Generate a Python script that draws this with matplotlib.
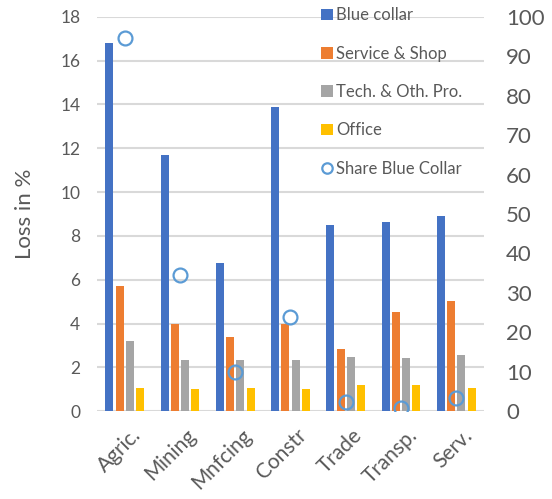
import matplotlib
matplotlib.use("Agg")
import matplotlib.pyplot as plt
import matplotlib.transforms as mtransforms
import numpy as np

plt.rcParams["font.family"] = ["Lato", "DejaVu Sans"]

sectors = ["Agric.", "Mining", "Mnfcing", "Constr", "Trade", "Transp.", "Serv."]
blue_collar = [16.8, 11.7, 6.75, 13.9, 8.5, 8.65, 8.9]
service_shop = [5.7, 4.0, 3.4, 4.0, 2.85, 4.55, 5.05]
tech_other = [3.2, 2.35, 2.35, 2.35, 2.5, 2.45, 2.55]
office = [1.08, 1.03, 1.08, 1.03, 1.2, 1.2, 1.08]
share_blue = [94.5, 34.5, 10.0, 24.0, 2.3, 0.9, 3.3]

series = [
    ("Blue collar", blue_collar, "#4472C4"),
    ("Service & Shop", service_shop, "#ED7D31"),
    ("Tech. & Oth. Pro.", tech_other, "#A5A5A5"),
    ("Office", office, "#FFC000"),
]
text_col = "#595959"
grid_col = "#D9D9D9"

fig = plt.figure(figsize=(5.52, 4.99), dpi=100)
ax = fig.add_axes([0.1757, 0.1757, 0.7011, 0.7908])
ax2 = ax.twinx()

x = np.arange(len(sectors))
step = 0.185
width = 0.145
handles = []
for i, (name, vals, col) in enumerate(series):
    b = ax.bar(x + (i - 1.5) * step, vals, width, color=col, label=name, zorder=3)
    handles.append(b)

line, = ax2.plot(x, share_blue, linestyle="none", marker="o", markersize=10,
                 markerfacecolor="none", markeredgecolor="#5B9BD5",
                 markeredgewidth=1.6, label="Share Blue Collar", zorder=4)
handles.append(line)

ax.set_xlim(-0.5, len(sectors) - 0.5)
ax.set_ylim(0, 18)
ax.set_yticks(range(0, 19, 2))
ax2.set_ylim(0, 100)
ax2.set_yticks(range(0, 101, 10))

ax.grid(axis="y", color=grid_col, linewidth=1.5, zorder=0)
ax.set_axisbelow(True)
for a in (ax, ax2):
    for s in a.spines.values():
        s.set_visible(False)
    a.tick_params(length=0, colors=text_col)

ax.tick_params(axis="y", labelsize=12.5, pad=12)
ax2.tick_params(axis="y", labelsize=16, pad=16)
ax.set_xticks(x)
ax.set_xticklabels(sectors, rotation=45, ha="right", rotation_mode="anchor",
                   fontsize=15, color=text_col)
ax.tick_params(axis="x", pad=10)
# nudge the slanted labels a little to the right of each group
shift = mtransforms.ScaledTranslation(6 / 100, 0, fig.dpi_scale_trans)
for lbl in ax.get_xticklabels():
    lbl.set_transform(lbl.get_transform() + shift)
ax.set_ylabel("Loss in %", fontsize=16, color=text_col, labelpad=18)

ax2.legend(handles=handles, loc="upper left", bbox_to_anchor=(313 / 552, 1 + 1 / 499),
           bbox_transform=fig.transFigure, frameon=False, fontsize=12,
           labelcolor=text_col, handlelength=0.7, handleheight=0.7,
           handletextpad=0.2, labelspacing=1.34, borderpad=0, markerscale=0.75)

fig.savefig("out.png", dpi=100)
